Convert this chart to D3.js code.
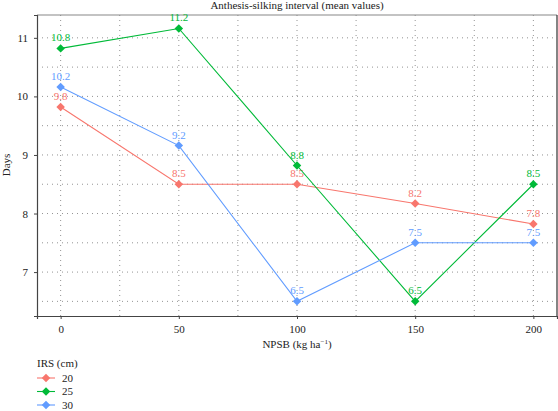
<!DOCTYPE html>
<html>
<head>
<meta charset="utf-8">
<script src="https://cdn.jsdelivr.net/npm/d3@7"></script>
<style>
  body { margin: 0; background: #fff; }
  svg text { font-family: 'Liberation Serif', 'Times New Roman', 'DejaVu Serif', serif; }
</style>
</head>
<body>
<svg id="chart" width="558" height="411"></svg>
<script>
// DATA
const doses = [0, 50, 100, 150, 200];
const irs = ["20", "25", "30"];
const days20 = [9.82, 8.5, 8.5, 8.17, 7.82];
const days25 = [10.82, 11.16, 8.82, 6.5, 8.5];
const days30 = [10.16, 9.16, 6.5, 7.5, 7.5];
const labels20 = ["9.8", "8.5", "8.5", "8.2", "7.8"];
const labels25 = ["10.8", "11.2", "8.8", "6.5", "8.5"];
const labels30 = ["10.2", "9.2", "6.5", "7.5", "7.5"];
const xTicks = [0, 50, 100, 150, 200];
const yTicks = [7, 8, 9, 10, 11];
const colors = ["#F8766D", "#00BA38", "#619CFF"];

const series = [
  { name: irs[0], values: days20, labels: labels20, color: colors[0] },
  { name: irs[1], values: days25, labels: labels25, color: colors[1] },
  { name: irs[2], values: days30, labels: labels30, color: colors[2] },
];

// RENDER
const svg = d3.select("#chart");
const m = { left: 37, right: 557, top: 15, bottom: 316 };
const FONT = "'Liberation Serif', 'Times New Roman', serif";

const x = d3.scaleLinear().domain([-10, 210]).range([m.left, m.right]);
const y = d3.scaleLinear().domain([6.25, 11.39]).range([m.bottom, m.top]);

// grid (major + minor), dotted
const grid = svg.append("g");
const xGrid = d3.range(0, 201, 25);
const yGrid = d3.range(6.5, 11.01, 0.5);
grid.selectAll(".gx").data(xGrid).enter().append("line")
  .attr("x1", d => x(d)).attr("x2", d => x(d))
  .attr("y1", m.top).attr("y2", m.bottom)
  .attr("stroke", "#777").attr("stroke-width", 0.8)
  .attr("stroke-dasharray", "1,4");
grid.selectAll(".gy").data(yGrid).enter().append("line")
  .attr("x1", m.left).attr("x2", m.right)
  .attr("y1", d => y(d)).attr("y2", d => y(d))
  .attr("stroke", "#777").attr("stroke-width", 0.8)
  .attr("stroke-dasharray", "1,4");

// frame
svg.append("line").attr("x1", m.left).attr("x2", m.right).attr("y1", m.top).attr("y2", m.top)
  .attr("stroke", "#888").attr("stroke-width", 1.2);
svg.append("line").attr("x1", m.right).attr("x2", m.right).attr("y1", m.top).attr("y2", m.bottom)
  .attr("stroke", "#333").attr("stroke-width", 1.2);

// axes
const xAxis = svg.append("g").attr("transform", `translate(0,${m.bottom})`)
  .call(d3.axisBottom(x).tickValues(xTicks).tickFormat(d3.format("d")).tickSize(3).tickPadding(6));
const yAxis = svg.append("g").attr("transform", `translate(${m.left},0)`)
  .call(d3.axisLeft(y).tickValues(yTicks).tickFormat(d3.format("d")).tickSize(3).tickPadding(6));
[xAxis, yAxis].forEach(a => {
  a.attr("font-family", FONT);
  a.select(".domain").attr("stroke", "#444").attr("stroke-width", 1.2);
  a.selectAll(".tick line").attr("stroke", "#444");
  a.selectAll("text").attr("font-size", 11).attr("fill", "#222");
});

// lines
const line = d3.line().x((d, i) => x(doses[i])).y(d => y(d));
const diamond = d3.symbol().type(d3.symbolSquare).size(36);

series.forEach(s => {
  const g = svg.append("g");
  g.append("path").datum(s.values).attr("d", line)
    .attr("fill", "none").attr("stroke", s.color).attr("stroke-width", 1.1);
  g.selectAll("path.pt").data(s.values).enter().append("path")
    .attr("class", "pt")
    .attr("d", diamond)
    .attr("transform", (d, i) => `translate(${x(doses[i])},${y(d)}) rotate(45)`)
    .attr("fill", s.color);
  g.selectAll("text").data(s.values).enter().append("text")
    .attr("x", (d, i) => x(doses[i]))
    .attr("y", d => y(d) - 7)
    .attr("text-anchor", "middle")
    .attr("font-size", 11)
    .attr("fill", s.color)
    .text((d, i) => s.labels[i]);
});

// title and axis labels
svg.append("text").attr("x", (m.left + m.right) / 2).attr("y", 9)
  .attr("text-anchor", "middle").attr("font-size", 11).attr("fill", "#222")
  .text("Anthesis-silking interval (mean values)");
svg.append("text").attr("x", (m.left + m.right) / 2).attr("y", 348)
  .attr("text-anchor", "middle").attr("font-size", 11).attr("fill", "#222")
  .html('NPSB (kg ha<tspan dy="-4" font-size="7">−1</tspan><tspan dy="4">)</tspan>');
svg.append("text").attr("transform", "translate(10,165) rotate(-90)")
  .attr("text-anchor", "middle").attr("font-size", 11).attr("fill", "#222")
  .text("Days");

// legend
const legend = svg.append("g").attr("transform", "translate(37,367)");
legend.append("text").attr("x", 0).attr("y", 0).attr("font-size", 11).attr("fill", "#222")
  .text("IRS (cm)");
const items = legend.selectAll(".item").data(series).enter().append("g")
  .attr("transform", (d, i) => `translate(0,${11 + i * 13.5})`);
items.append("line").attr("x1", 0).attr("x2", 18).attr("y1", 0).attr("y2", 0)
  .attr("stroke", d => d.color).attr("stroke-width", 1.1);
items.append("path").attr("d", diamond).attr("transform", "translate(9,0) rotate(45)")
  .attr("fill", d => d.color);
items.append("text").attr("x", 25).attr("y", 3.5).attr("font-size", 11).attr("fill", "#222")
  .text(d => d.name);
</script>
</body>
</html>
